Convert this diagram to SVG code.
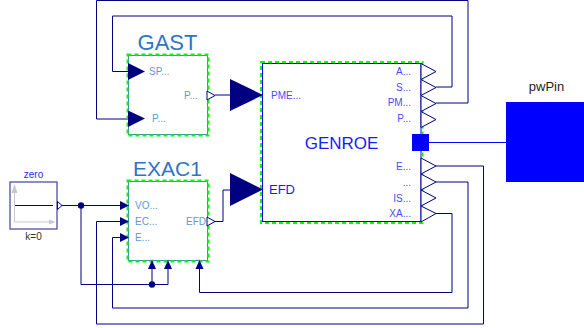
<svg xmlns="http://www.w3.org/2000/svg" width="584" height="328" viewBox="0 0 584 328">
<style>
text{font-family:"Liberation Sans",Arial,sans-serif}
.w{fill:none;stroke:#000080;stroke-width:1}
.in{fill:#000080;stroke:none}
.out{fill:#fff;stroke:#000080;stroke-width:1}
.gr{fill:none;stroke:#00ff00;stroke-width:2;stroke-dasharray:4 3}
.sub{fill:#fff;stroke:#4f82bd;stroke-width:1}
.gen{fill:#fff;stroke:#0000ff;stroke-width:1}
.t1{fill:#2e75c8;font-size:22px;text-anchor:middle}
.p1{fill:#5b9bd8;font-size:10px}
.p2{fill:#4a4aff;font-size:10px}
.r{text-anchor:end}
.dot{fill:#000080}
</style>
<g id="connectors">
<path class="w" d="M60 205.500H121"/>
<path class="w" d="M81 205.500V284.500H168V268"/>
<path class="w" d="M152 284.500V268"/>
<path class="w" d="M436 87H452V16H112.500V71.500H128"/>
<path class="w" d="M436 103H468V0.500H96.500V119H128"/>
<path class="w" d="M215 95H230"/>
<path class="w" d="M215 221.500H223V190H230"/>
<path d="M429 142.500H506" fill="none" stroke="#0000ff"/>
<path class="w" d="M436 166H483.500V324H96.500V221.500H121"/>
<path class="w" d="M436 182H468V308H112.500V237.500H121"/>
<path class="w" d="M436 213.500H452V292.500H199.500V268"/>
<circle class="dot" cx="81" cy="205.500" r="3.200"/>
<circle class="dot" cx="152" cy="284.500" r="3.200"/>
</g>
<g id="zero">
<rect x="10" y="182" width="47" height="47" fill="#fff" stroke="#5050a8" stroke-width="1.300"/>
<path d="M14.500 222H52M14.500 222V190" fill="none" stroke="#c8c8c8"/>
<path d="M14.500 184L11.500 193H17.500ZM55.500 222L49 219.500V224.500Z" fill="#c8c8c8"/>
<path d="M15 205.500H53" stroke="#111" fill="none"/>
<path class="out" d="M57.500 201.500L62 205.500L57.500 209.500Z"/>
<text x="33.500" y="177.500" font-size="10" fill="#2a2aff" text-anchor="middle">zero</text>
<text x="33.500" y="239.500" font-size="10" fill="#333" text-anchor="middle">k=0</text>
</g>
<g id="GAST">
<rect class="sub" x="128.500" y="55.500" width="79" height="79"/>
<rect class="gr" x="127.500" y="54.500" width="81" height="81"/>
<path class="in" d="M128 63L145 71.500L128 80Z"/>
<path class="in" d="M128 110.500L145 118.500L128 127Z"/>
<path class="out" d="M207 91L215 95.500L207 100Z"/>
<text class="t1" x="167.500" y="50">GAST</text>
<text class="p1" x="149" y="74.500">SP...</text>
<text class="p1" x="152" y="121.500">P...</text>
<text class="p1" x="184" y="98.500">P...</text>
</g>
<g id="EXAC1">
<rect class="sub" x="128.500" y="181.500" width="79" height="79"/>
<rect class="gr" x="127.500" y="180.500" width="81" height="81"/>
<path class="in" d="M120 201L129 205.500L120 210Z"/>
<path class="in" d="M120 217L129 221.500L120 226Z"/>
<path class="in" d="M120 233L129 237.500L120 242Z"/>
<path class="in" d="M148 269L152 260L156 269Z"/>
<path class="in" d="M164 269L168 260L172 269Z"/>
<path class="in" d="M195.500 269L199.500 260L203.500 269Z"/>
<path class="out" d="M207 217L215 221.500L207 226Z"/>
<text class="t1" x="167.500" y="176" style="font-size:21px">EXAC1</text>
<text class="p1" x="135" y="209">VO...</text>
<text class="p1" x="135" y="224.500">EC...</text>
<text class="p1" x="135" y="240.500">E...</text>
<text class="p1" x="186" y="224.500">EFD</text>
<text class="p1" x="148" y="260" style="font-size:6px">...</text>
<text class="p1" x="164" y="260" style="font-size:6px">...</text>
<text class="p1" x="195.500" y="260" style="font-size:6px">...</text>
</g>
<g id="GENROE">
<rect class="gen" x="262.500" y="63.500" width="158.500" height="158"/>
<rect class="gr" x="261" y="62" width="161.500" height="161"/>
<path class="in" d="M230 79L263 95L230 111Z"/>
<path class="in" d="M230 173L263 189.500L230 206Z"/>
<path class="out" d="M421 63.500L436 71.500L421 79.500Z"/>
<path class="out" d="M421 79.500L436 87.500L421 95.500Z"/>
<path class="out" d="M421 95.500L436 103.500L421 111.500Z"/>
<path class="out" d="M421 111.500L436 119.500L421 127.500Z"/>
<path class="out" d="M421 158L436 166L421 174Z"/>
<path class="out" d="M421 174L436 182L421 190Z"/>
<path class="out" d="M421 190L436 198L421 206Z"/>
<path class="out" d="M421 206L436 213.500L421 222Z"/>
<rect x="412" y="134" width="17" height="17" fill="#0000ff"/>
<text x="341.500" y="149" font-size="17" fill="#1a1aff" text-anchor="middle">GENROE</text>
<text class="p2" x="271" y="98.500">PME...</text>
<text x="269" y="194" font-size="13" fill="#1a1aff">EFD</text>
<text class="p2 r" x="411" y="75">A...</text>
<text class="p2 r" x="411" y="90.500">S...</text>
<text class="p2 r" x="411" y="106">PM...</text>
<text class="p2 r" x="411" y="122">P...</text>
<text class="p2 r" x="411" y="169.500">E...</text>
<text class="p2 r" x="411" y="186">...</text>
<text class="p2 r" x="411" y="201.500">IS...</text>
<text class="p2 r" x="411" y="216.500">XA...</text>
</g>
<g id="pwPin">
<rect x="506" y="102" width="78" height="80" fill="#0000ff"/>
<text x="546.500" y="91" font-size="13" fill="#222" text-anchor="middle">pwPin</text>
</g>
</svg>
